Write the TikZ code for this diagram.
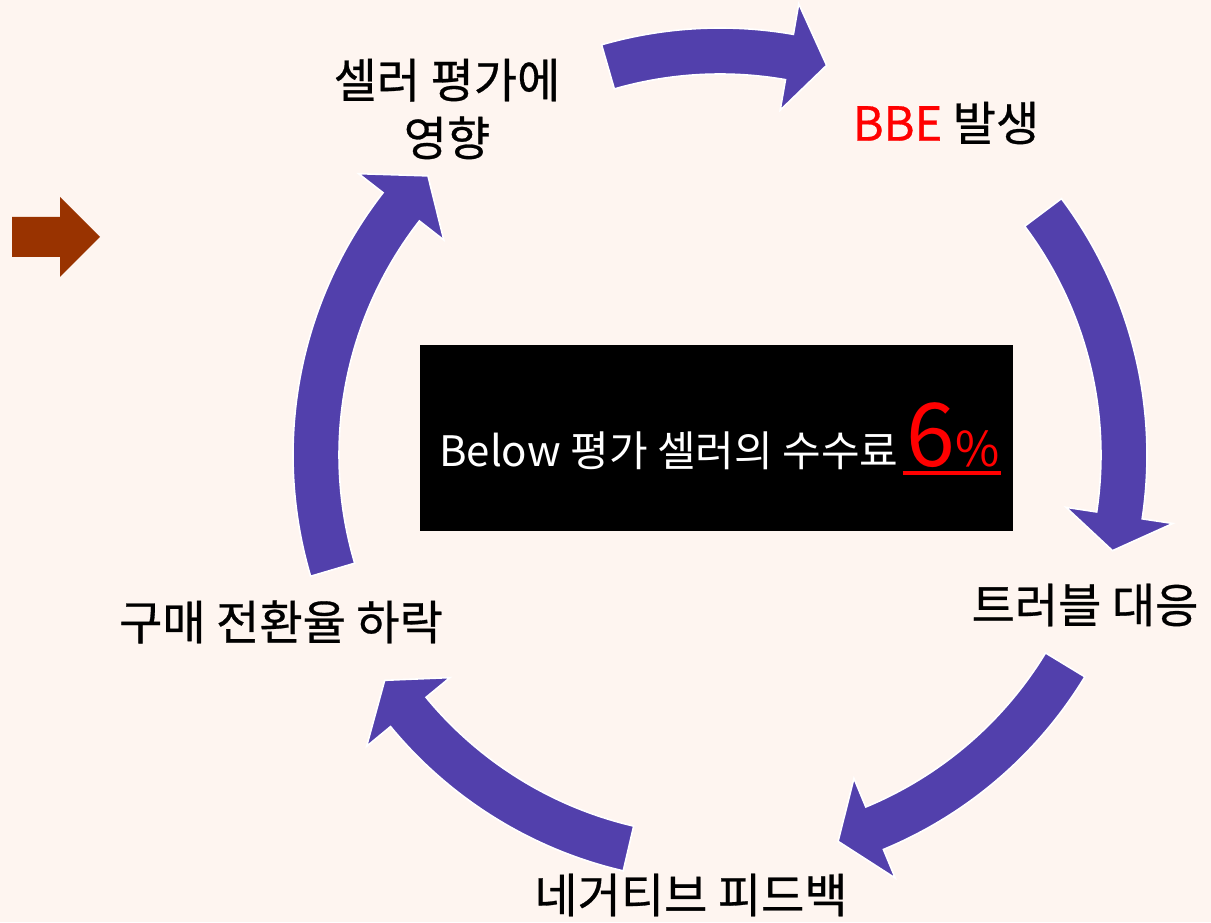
\documentclass[tikz,border=0pt]{standalone}
\usepackage{fontspec}
\newfontfamily\krfont{Noto Sans CJK KR}
\newfontfamily\krfontb[FakeBold=0.6]{Noto Sans CJK KR}
\definecolor{bgpink}{HTML}{FEF5F0}
\definecolor{cycpurple}{HTML}{5240AC}
\definecolor{brownarrow}{HTML}{993300}
\definecolor{hotred}{HTML}{FF0000}
% curved block arrow around the cycle centre: #1 tail angle, #2 head-base angle, #3 tip angle
\newcommand\cycarrow[3]{%
  \fill[cycarrowstyle] (#1:427pt) arc[start angle=#1, end angle=#2, radius=427pt]
    -- (#2:458pt) -- (#3:404pt) -- (#2:350pt) -- (#2:381pt)
    arc[start angle=#2, end angle=#1, radius=381pt] -- cycle;}
\begin{document}
\begin{tikzpicture}[x=1pt,y=1pt,
  cycarrowstyle/.style={fill=cycpurple, draw=white, line width=1.6pt, line join=miter},
  lbl/.style={font=\krfontb\fontsize{47}{58}\selectfont, text=black, align=center, inner sep=0pt},
  ctr/.style={font=\krfont\fontsize{42}{44}\selectfont, text=white, inner sep=0pt, anchor=base west}]
\fill[bgpink] (0,0) rectangle (1211,922);
\useasboundingbox (0,0) rectangle (1211,922);

% left brown block arrow
\fill[brownarrow] (12,665) -- (12,705) -- (60,705) -- (60,725) -- (100,685) -- (60,645) -- (60,665) -- cycle;

% cycle arrows
\begin{scope}[shift={(720,467)}]
  \cycarrow{106.1}{80.1}{74.7}
  \cycarrow{36.9}{-8.6}{-13.7}
  \cycarrow{-31.3}{-67.5}{-73.0}
  \cycarrow{256.9}{219.5}{213.9}
  \cycarrow{196.5}{142.1}{136.3}
\end{scope}

% central black box
\node[fill=black, minimum width=593pt, minimum height=186pt, inner sep=0pt] (box) at (716.5,484) {};
\node[ctr] (ctext) at (439,455) {Below 평가 셀러의 수수료};
\node[anchor=base west, inner sep=0pt, text=hotred, font=\krfont] (six) at ([xshift=8pt]ctext.base east)
  {{\fontsize{88}{90}\selectfont 6}{\fontsize{48}{50}\selectfont\%}};
\coordinate (ulA) at ([xshift=-4pt,yshift=-6pt]six.base west);
\coordinate (ulB) at ([xshift=1pt,yshift=-6pt]six.base east);
\draw[hotred, line width=3.5pt] (ulA) -- (ulB);

% cycle labels
\node[lbl] (n1) at (447,813) {셀러 평가에\\영향};
\node[lbl] (n2) at (946,799) {\textcolor{hotred}{BBE} 발생};
\node[lbl] (n3) at (1085,317) {트러블 대응};
\node[lbl] (n4) at (691,27) {네거티브 피드백};
\node[lbl] (n5) at (281,300) {구매 전환율 하락};
\end{tikzpicture}
\end{document}
